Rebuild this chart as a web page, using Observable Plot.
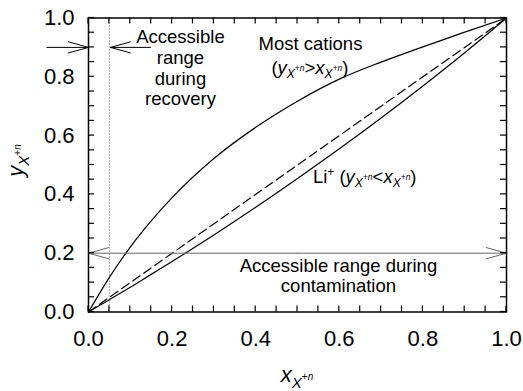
<!DOCTYPE html>
<html><head><meta charset="utf-8">
<script src="https://cdn.jsdelivr.net/npm/d3@7"></script>
<script src="https://cdn.jsdelivr.net/npm/@observablehq/plot@0.6"></script>
<style>
body{margin:0;background:#fff;}
svg{font-family:"Liberation Sans",Arial,sans-serif;background:#fff;}
</style>
</head><body><div id="chart"></div>
<script>
// Liquid-phase fraction x (abscissa) sampled along the curves
const xFrac = [0, 0.05, 0.1, 0.15, 0.2, 0.3, 0.4, 0.5, 0.6, 0.7, 0.8, 0.9, 1.0];
// "Most cations" isotherm (y > x)
const mostCationsY = [0, 0.118, 0.221, 0.310, 0.389, 0.522, 0.628, 0.717, 0.792, 0.850, 0.902, 0.952, 1.0];
// Li+ isotherm (y < x)
const lithiumY = [0, 0.042, 0.084, 0.128, 0.172, 0.262, 0.356, 0.454, 0.555, 0.660, 0.769, 0.882, 1.0];
// Diagonal y = x (dashed)
const diagX = [0, 1];
const diagY = [0, 1];
// Ticks
const majorTicks = [0, 0.2, 0.4, 0.6, 0.8, 1.0];
const minorTicks = [0, 0.05, 0.1, 0.15, 0.2, 0.25, 0.3, 0.35, 0.4, 0.45, 0.5, 0.55, 0.6, 0.65, 0.7, 0.75, 0.8, 0.85, 0.9, 0.95, 1.0];
// Annotation values
const recoveryLimitX = [0.05];
const recoveryLevelY = 0.9;
const contaminationLevelY = 0.2;
const recoveryText = ["Accessible\nrange\nduring\nrecovery"];
const contaminationText = ["Accessible range during\ncontamination"];
const mostCationsText = ["Most cations"];

const upperPts = xFrac.map((x, i) => ({x, y: mostCationsY[i]}));
const liPts = xFrac.map((x, i) => ({x, y: lithiumY[i]}));
const diagPts = diagX.map((x, i) => ({x, y: diagY[i]}));

const fmt = d3.format(".1f");
const annFont = 18.5;

const chart = Plot.plot({
  width: 523,
  height: 391,
  marginLeft: 88,
  marginRight: 17,
  marginTop: 17.5,
  marginBottom: 79.5,
  x: {domain: [0, 1]},
  y: {domain: [0, 1]},
  style: {fontFamily: "Liberation Sans, Arial, sans-serif"},
  marks: [
    Plot.ruleX(recoveryLimitX, {y1: 0, y2: 1, stroke: "#555", strokeWidth: 1, strokeDasharray: "1,2"}),
    Plot.line(diagPts, {x: "x", y: "y", stroke: "black", strokeWidth: 1.2, strokeDasharray: "9,4.5"}),
    Plot.line(upperPts, {x: "x", y: "y", stroke: "black", strokeWidth: 1.2, curve: "monotone-x"}),
    Plot.line(liPts, {x: "x", y: "y", stroke: "black", strokeWidth: 1.2, curve: "monotone-x"}),
    // recovery arrows
    Plot.arrow([0], {x1: -0.15, x2: 0, y1: recoveryLevelY, y2: recoveryLevelY, insetStart: 21, headLength: 31.5, headAngle: 31, stroke: "black", strokeWidth: 1}),
    Plot.arrow([0], {x1: 0.2, x2: recoveryLimitX[0] + 0.0026, y1: recoveryLevelY, y2: recoveryLevelY, insetStart: 21.6, headLength: 31.5, headAngle: 31, stroke: "black", strokeWidth: 1}),
    // contamination double arrow
    Plot.arrow([0, 1], {x1: 0.5, x2: d => d, y1: contaminationLevelY, y2: contaminationLevelY, headLength: 31.5, headAngle: 31, stroke: "#666", strokeWidth: 1}),
    Plot.text(recoveryText, {x: 0.22, y: 0.832, text: d => d, fontSize: annFont, lineHeight: 1.13, textAnchor: "middle", fill: "black"}),
    Plot.text(contaminationText, {x: 0.598, y: 0.124, text: d => d, fontSize: annFont, lineHeight: 1.1, textAnchor: "middle", fill: "black"}),
    Plot.text(mostCationsText, {x: 0.531, y: 0.912, text: d => d, fontSize: annFont, textAnchor: "middle", fill: "black"}),
    // tick labels
    Plot.axisX({ticks: majorTicks, anchor: "bottom", tickSize: 0, tickPadding: 18.5, tickFormat: fmt, fontSize: 22, label: null}),
    Plot.axisY({ticks: majorTicks, anchor: "left", tickSize: 0, tickPadding: 14, tickFormat: fmt, fontSize: 22, label: null}),
    Plot.frame({stroke: "black", strokeWidth: 1.5})
  ]
});
document.getElementById("chart").appendChild(chart);

const svg = d3.select(chart);
const sx = chart.scale("x"), sy = chart.scale("y");

// Inward ticks on all four sides, positioned with the plot's own scales
const tickLen = 6;
const x0 = sx.apply(0), x1 = sx.apply(1), y0 = sy.apply(0), y1 = sy.apply(1);
const tg = svg.append("g").attr("stroke", "black").attr("stroke-width", 1.2);
for (const t of minorTicks) {
  const px = sx.apply(t), py = sy.apply(t);
  tg.append("line").attr("x1", px).attr("x2", px).attr("y1", y0).attr("y2", y0 - tickLen);
  tg.append("line").attr("x1", px).attr("x2", px).attr("y1", y1).attr("y2", y1 + tickLen);
  tg.append("line").attr("y1", py).attr("y2", py).attr("x1", x0).attr("x2", x0 + tickLen);
  tg.append("line").attr("y1", py).attr("y2", py).attr("x1", x1).attr("x2", x1 - tickLen);
}

// Rich labels with sub/superscripts placed via the plot's scales
function rich(g, x, y, anchor, parts) {
  const t = g.append("text").attr("x", x).attr("y", y).attr("text-anchor", anchor).attr("fill", "black");
  let cur = 0;
  for (const [s, size, off, italic] of parts) {
    t.append("tspan").attr("font-size", size).attr("dy", off - cur)
      .attr("font-style", italic ? "italic" : "normal").text(s);
    cur = off;
  }
  return t;
}
const subSup = [["X", 12, 4, true], ["+", 8.5, -3, false], ["n", 8.5, -3, true]];
// (y_X+n > x_X+n)
rich(svg, sx.apply(0.531), sy.apply(0) - 238, "middle", [
  ["(", annFont, 0, false], ["y", annFont, 0, true], ...subSup,
  [">", annFont, 0, false], ["x", annFont, 0, true], ...subSup, [")", annFont, 0, false]
]);
// Li+ (y_X+n < x_X+n)
rich(svg, sx.apply(0.538), sy.apply(0) - 128.5, "start", [
  ["Li", annFont, 0, false], ["+", 12, -7, false], [" (", annFont, 0, false], ["y", annFont, 0, true], ...subSup,
  ["<", annFont, 0, false], ["x", annFont, 0, true], ...subSup, [")", annFont, 0, false]
]);
// x axis title
rich(svg, sx.apply(0.5), sy.apply(0) + 70, "middle", [
  ["x", 22, 0, true], ["X", 15, 6, true], ["+", 10, -2, false], ["n", 10, -2, true]
]);
// y axis title (rotated)
const gy = svg.append("g").attr("transform", `translate(23,${sy.apply(0.5) - 4}) rotate(-90)`);
rich(gy, 0, 0, "middle", [
  ["y", 22, 0, true], ["X", 15, 6, true], ["+", 10, -2, false], ["n", 10, -2, true]
]);
</script>
</body></html>
